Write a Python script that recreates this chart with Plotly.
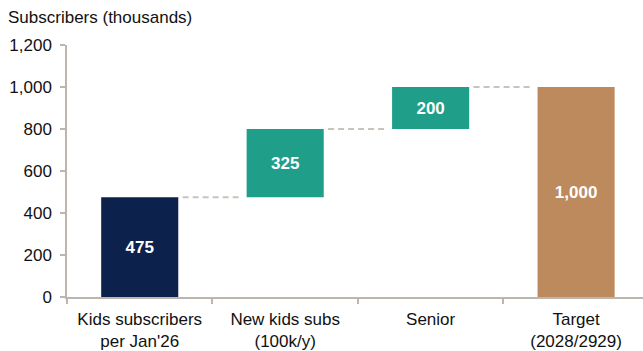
import plotly.graph_objects as go

# Waterfall steps (thousands of subscribers)
categories = ["Kids subscribers<br>per Jan'26", "New kids subs<br>(100k/y)", "Senior", "Target<br>(2028/2929)"]
values = [475, 325, 200, 1000]
is_total = [False, False, False, True]
bar_colors = ["#0c224c", "#1f9e89", "#1f9e89", "#bd8a5d"]
y_ticks = [0, 200, 400, 600, 800, 1000, 1200]

FONT = "Liberation Sans, Arial, sans-serif"
TXT = "#111111"
BAR_W = 0.53
GAP = 0.03

# bases and running totals
bases, tops = [], []
running = 0
for v, tot in zip(values, is_total):
    if tot:
        bases.append(0)
        running = v
    else:
        bases.append(running)
        running += v
    tops.append(running)

x_idx = list(range(len(categories)))

fig = go.Figure()
fig.add_trace(go.Bar(
    x=x_idx, y=values, base=bases, width=BAR_W,
    marker=dict(color=bar_colors, line=dict(width=0)),
    texttemplate="%{y:,}", textposition="inside", insidetextanchor="middle",
    textfont=dict(family=FONT, size=17, color="white", weight="bold"),
    constraintext="none", hoverinfo="skip", showlegend=False,
))

# dashed connectors between consecutive bars at the running total
for i in range(len(values) - 1):
    fig.add_trace(go.Scatter(
        x=[i + BAR_W / 2 + GAP, i + 1 - BAR_W / 2 - GAP], y=[tops[i], tops[i]],
        mode="lines", line=dict(color="#c9c3bc", width=2, dash="6px,4px"),
        hoverinfo="skip", showlegend=False,
    ))

axis_col = "#bdb6af"
fig.update_layout(
    width=643, height=351,
    margin=dict(l=67, r=0, t=45, b=54),
    paper_bgcolor="white", plot_bgcolor="white",
    font=dict(family=FONT, size=17, color=TXT),
    title=dict(text="Subscribers (thousands)", x=8 / 643, xanchor="left",
               xref="container", y=1 - 17 / 351, yanchor="middle",
               font=dict(family=FONT, size=17, color=TXT)),
    xaxis=dict(range=[-0.5, 3.46], tickvals=x_idx, ticktext=categories,
               ticks="", showgrid=False, zeroline=False, ticklabelstandoff=6,
               showline=True, linecolor=axis_col, linewidth=1.5,
               minor=dict(tick0=-0.5, dtick=1, ticks="outside", ticklen=5,
                          tickcolor=axis_col, tickwidth=1.5, showgrid=False),
               tickfont=dict(family=FONT, size=17, color=TXT)),
    yaxis=dict(range=[0, 1200], tickvals=y_ticks, tickformat=",",
               ticks="outside", ticklen=5, tickcolor=axis_col, tickwidth=1.5,
               showgrid=False, zeroline=False, ticklabelstandoff=5,
               showline=True, linecolor=axis_col, linewidth=1.5,
               tickfont=dict(family=FONT, size=17, color=TXT)),
)

fig.write_html("out.html")
